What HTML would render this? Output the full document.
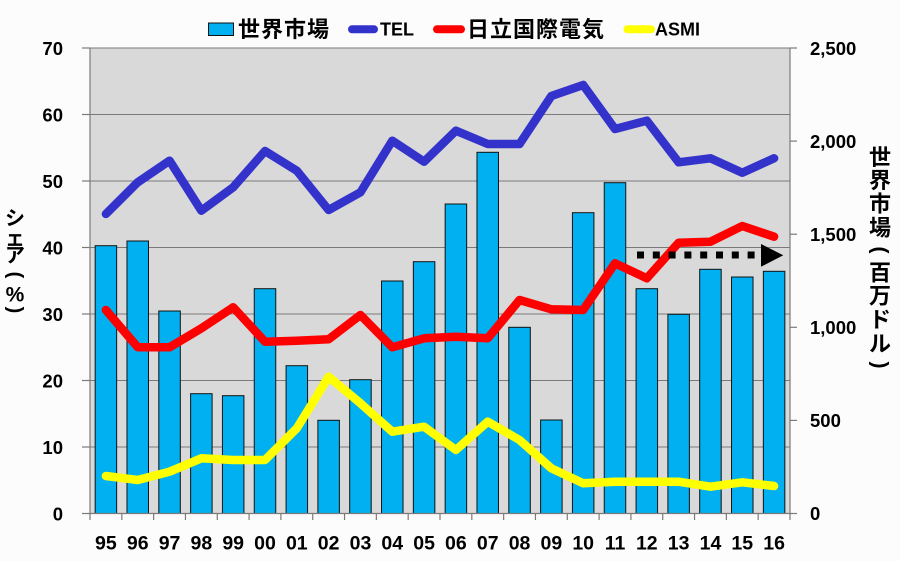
<!DOCTYPE html>
<html><head><meta charset="utf-8"><style>
html,body{margin:0;padding:0;background:#fcfcfc;}
svg{display:block;}
text{font-family:"Liberation Sans","Noto Sans CJK JP",sans-serif;font-weight:bold;fill:#000;}
.cjk{font-family:"Noto Sans CJK JP","Liberation Sans",sans-serif;font-weight:bold;}
</style></head><body>
<svg width="900" height="561" viewBox="0 0 900 561" xmlns="http://www.w3.org/2000/svg">
<rect x="0" y="0" width="900" height="561" fill="#fcfcfc"/>
<rect x="90" y="48" width="700" height="465.5" fill="#d9d9d9"/>
<g stroke="#7a7a7a" stroke-width="1">
<line x1="90" y1="48" x2="790" y2="48"/>
<line x1="90" y1="114.5" x2="790" y2="114.5"/>
<line x1="90" y1="181" x2="790" y2="181"/>
<line x1="90" y1="247.5" x2="790" y2="247.5"/>
<line x1="90" y1="314" x2="790" y2="314"/>
<line x1="90" y1="380.5" x2="790" y2="380.5"/>
<line x1="90" y1="447" x2="790" y2="447"/>
</g>
<g fill="#00b0f0" stroke="#111" stroke-width="1">
<rect x="95.16" y="245.7" width="21.5" height="267.8"/>
<rect x="126.98" y="241" width="21.5" height="272.5"/>
<rect x="158.80" y="311" width="21.5" height="202.5"/>
<rect x="190.61" y="393.7" width="21.5" height="119.8"/>
<rect x="222.43" y="395.7" width="21.5" height="117.8"/>
<rect x="254.25" y="288.7" width="21.5" height="224.8"/>
<rect x="286.07" y="365.7" width="21.5" height="147.8"/>
<rect x="317.89" y="420.3" width="21.5" height="93.2"/>
<rect x="349.70" y="379.7" width="21.5" height="133.8"/>
<rect x="381.52" y="281" width="21.5" height="232.5"/>
<rect x="413.34" y="261.7" width="21.5" height="251.8"/>
<rect x="445.16" y="204" width="21.5" height="309.5"/>
<rect x="476.98" y="152.3" width="21.5" height="361.2"/>
<rect x="508.80" y="327.3" width="21.5" height="186.2"/>
<rect x="540.61" y="420" width="21.5" height="93.5"/>
<rect x="572.43" y="212.7" width="21.5" height="300.8"/>
<rect x="604.25" y="182.7" width="21.5" height="330.8"/>
<rect x="636.07" y="288.7" width="21.5" height="224.8"/>
<rect x="667.89" y="314.3" width="21.5" height="199.2"/>
<rect x="699.70" y="269.3" width="21.5" height="244.2"/>
<rect x="731.52" y="277" width="21.5" height="236.5"/>
<rect x="763.34" y="271.3" width="21.5" height="242.2"/>
</g>
<g stroke="#7a7a7a" stroke-width="1.2">
<line x1="90" y1="48" x2="90" y2="513.5"/>
<line x1="790" y1="48" x2="790" y2="513.5"/>
<line x1="90" y1="513.5" x2="790" y2="513.5"/>
<line x1="82" y1="48" x2="90" y2="48"/>
<line x1="82" y1="114.5" x2="90" y2="114.5"/>
<line x1="82" y1="181" x2="90" y2="181"/>
<line x1="82" y1="247.5" x2="90" y2="247.5"/>
<line x1="82" y1="314" x2="90" y2="314"/>
<line x1="82" y1="380.5" x2="90" y2="380.5"/>
<line x1="82" y1="447" x2="90" y2="447"/>
<line x1="82" y1="513.5" x2="90" y2="513.5"/>
<line x1="790" y1="48" x2="797" y2="48"/>
<line x1="790" y1="141.1" x2="797" y2="141.1"/>
<line x1="790" y1="234.2" x2="797" y2="234.2"/>
<line x1="790" y1="327.3" x2="797" y2="327.3"/>
<line x1="790" y1="420.4" x2="797" y2="420.4"/>
<line x1="790" y1="513.5" x2="797" y2="513.5"/>
<line x1="90" y1="513.5" x2="90" y2="520"/>
<line x1="121.82" y1="513.5" x2="121.82" y2="520"/>
<line x1="153.64" y1="513.5" x2="153.64" y2="520"/>
<line x1="185.45" y1="513.5" x2="185.45" y2="520"/>
<line x1="217.27" y1="513.5" x2="217.27" y2="520"/>
<line x1="249.09" y1="513.5" x2="249.09" y2="520"/>
<line x1="280.91" y1="513.5" x2="280.91" y2="520"/>
<line x1="312.73" y1="513.5" x2="312.73" y2="520"/>
<line x1="344.55" y1="513.5" x2="344.55" y2="520"/>
<line x1="376.36" y1="513.5" x2="376.36" y2="520"/>
<line x1="408.18" y1="513.5" x2="408.18" y2="520"/>
<line x1="440" y1="513.5" x2="440" y2="520"/>
<line x1="471.82" y1="513.5" x2="471.82" y2="520"/>
<line x1="503.64" y1="513.5" x2="503.64" y2="520"/>
<line x1="535.45" y1="513.5" x2="535.45" y2="520"/>
<line x1="567.27" y1="513.5" x2="567.27" y2="520"/>
<line x1="599.09" y1="513.5" x2="599.09" y2="520"/>
<line x1="630.91" y1="513.5" x2="630.91" y2="520"/>
<line x1="662.73" y1="513.5" x2="662.73" y2="520"/>
<line x1="694.55" y1="513.5" x2="694.55" y2="520"/>
<line x1="726.36" y1="513.5" x2="726.36" y2="520"/>
<line x1="758.18" y1="513.5" x2="758.18" y2="520"/>
<line x1="790" y1="513.5" x2="790" y2="520"/>
</g>
<g fill="none" stroke-width="8.5" stroke-linejoin="round" stroke-linecap="round">
<polyline stroke="#3333cc" points="105.91,214 137.73,182.3 169.55,160.7 201.36,210.7 233.18,187.3 265,151 296.82,170.7 328.64,210 360.45,192.3 392.27,140.7 424.09,161.7 455.91,130.7 487.73,144 519.55,144 551.36,96 583.18,85 615,129 646.82,120.7 678.64,162.3 710.45,158.3 742.27,172.7 774.09,158.3"/>
<polyline stroke="#ff0000" points="105.91,310 137.73,347.3 169.55,347.3 201.36,328.3 233.18,307.3 265,341.7 296.82,340.7 328.64,339.3 360.45,315 392.27,347.3 424.09,338.3 455.91,336.7 487.73,338.3 519.55,300 551.36,309.3 583.18,310 615,263.3 646.82,278.3 678.64,242.7 710.45,241.7 742.27,226 774.09,236.7"/>
<polyline stroke="#ffff00" points="105.91,476 137.73,480 169.55,471.7 201.36,458.3 233.18,460 265,460 296.82,428.3 328.64,376.7 360.45,403.3 392.27,431.7 424.09,426.7 455.91,450 487.73,421.7 519.55,440 551.36,468.3 583.18,483.3 615,481.7 646.82,481.7 678.64,481.7 710.45,486.7 742.27,482.3 774.09,486"/>
</g>
<g fill="#000">
<rect x="637" y="251.5" width="7" height="7"/>
<rect x="652.8" y="251.5" width="7" height="7"/>
<rect x="668.6" y="251.5" width="7" height="7"/>
<rect x="684.4" y="251.5" width="7" height="7"/>
<rect x="700.2" y="251.5" width="7" height="7"/>
<rect x="716" y="251.5" width="7" height="7"/>
<rect x="731.8" y="251.5" width="7" height="7"/>
<rect x="747.6" y="251.5" width="7" height="7"/>
<polygon points="761,244 761,266.7 783.3,255.3"/>
</g>
<g font-size="18.5" text-anchor="end">
<text x="63" y="55">70</text>
<text x="63" y="121.5">60</text>
<text x="63" y="188">50</text>
<text x="63" y="254.5">40</text>
<text x="63" y="321">30</text>
<text x="63" y="387.5">20</text>
<text x="63" y="454">10</text>
<text x="63" y="520.5">0</text>
</g>
<g font-size="18.5" text-anchor="start">
<text x="810" y="55">2,500</text>
<text x="810" y="148">2,000</text>
<text x="810" y="241">1,500</text>
<text x="810" y="334">1,000</text>
<text x="810" y="427">500</text>
<text x="810" y="520">0</text>
</g>
<g font-size="19.5" text-anchor="middle">
<text x="105.91" y="549.5">95</text>
<text x="137.73" y="549.5">96</text>
<text x="169.55" y="549.5">97</text>
<text x="201.36" y="549.5">98</text>
<text x="233.18" y="549.5">99</text>
<text x="265" y="549.5">00</text>
<text x="296.82" y="549.5">01</text>
<text x="328.64" y="549.5">02</text>
<text x="360.45" y="549.5">03</text>
<text x="392.27" y="549.5">04</text>
<text x="424.09" y="549.5">05</text>
<text x="455.91" y="549.5">06</text>
<text x="487.73" y="549.5">07</text>
<text x="519.55" y="549.5">08</text>
<text x="551.36" y="549.5">09</text>
<text x="583.18" y="549.5">10</text>
<text x="615" y="549.5">11</text>
<text x="646.82" y="549.5">12</text>
<text x="678.64" y="549.5">13</text>
<text x="710.45" y="549.5">14</text>
<text x="742.27" y="549.5">15</text>
<text x="774.09" y="549.5">16</text>
</g>
<rect x="208.5" y="23" width="25" height="12.5" fill="#00b0f0" stroke="#111" stroke-width="1"/>
<text class="cjk" x="238" y="37" font-size="22" textLength="91" lengthAdjust="spacing">世界市場</text>
<line x1="352" y1="29.3" x2="374" y2="29.3" stroke="#3333cc" stroke-width="8" stroke-linecap="round"/>
<text x="380" y="35.5" font-size="18">TEL</text>
<line x1="437" y1="29.3" x2="461" y2="29.3" stroke="#ff0000" stroke-width="8" stroke-linecap="round"/>
<text class="cjk" x="467" y="37" font-size="22" textLength="137" lengthAdjust="spacing">日立国際電気</text>
<line x1="627.5" y1="29.3" x2="651" y2="29.3" stroke="#ffff00" stroke-width="8" stroke-linecap="round"/>
<text x="655" y="35.5" font-size="18">ASMI</text>
<g font-size="20" text-anchor="middle">
<text class="cjk" x="15" y="225">シ</text>
<text class="cjk" x="15" y="245">ェ</text>
<text class="cjk" x="15" y="262">ア</text>
<text x="15" y="275" transform="rotate(90 15 275)" dominant-baseline="central">(</text>
<text x="15" y="301.5" font-size="21">%</text>
<text x="15" y="310" transform="rotate(90 15 310)" dominant-baseline="central">)</text>
</g>
<g font-size="22" text-anchor="middle">
<text class="cjk" x="880" y="165">世</text>
<text class="cjk" x="880" y="188">界</text>
<text class="cjk" x="880" y="211.5">市</text>
<text class="cjk" x="880" y="235.5">場</text>
<text x="880" y="250" transform="rotate(90 880 250)" dominant-baseline="central" font-size="21">(</text>
<text class="cjk" x="880" y="280.5">百</text>
<text class="cjk" x="880" y="303.5">万</text>
<text class="cjk" x="880" y="327.5">ド</text>
<text class="cjk" x="880" y="351.5">ル</text>
<text x="880" y="365" transform="rotate(90 880 365)" dominant-baseline="central" font-size="21">)</text>
</g>
</svg>
</body></html>
